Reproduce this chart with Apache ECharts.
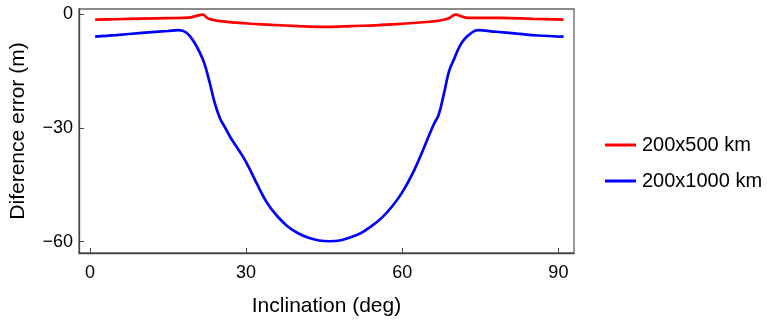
<!DOCTYPE html>
<html>
<head>
<meta charset="utf-8">
<script src="https://cdn.jsdelivr.net/npm/echarts@6/dist/echarts.min.js"></script>
<style>
  html, body { margin: 0; padding: 0; background: #fff; }
  #chart { width: 767px; height: 322px; }
</style>
</head>
<body>
<div id="chart"></div>
<script>
// inclination (deg) and difference error (m)
const redX = [1, 5, 10, 15, 19, 20.5, 21.7, 22.7, 25, 28, 31, 35, 40, 44, 46, 50, 55, 60, 64, 67, 68.7, 70.3, 71.5, 72.5, 79, 85, 91];
const redY = [-1.4, -1.3, -1.15, -1.0, -0.9, -0.4, -0.1, -1.1, -1.8, -2.2, -2.5, -2.8, -3.1, -3.3, -3.3, -3.1, -2.9, -2.5, -2.1, -1.7, -1.2, -0.1, -0.6, -0.95, -0.95, -1.2, -1.4];

const blueX = [1, 5, 10, 15, 17, 18.5, 20, 21, 22, 23, 24, 25, 26, 27, 28, 30, 32, 34, 36, 38, 40, 42, 44, 46, 48, 50, 52, 54, 56, 58, 60, 62, 64, 66, 67, 68, 69, 70, 71, 72, 73, 74.5, 78, 82, 86, 91];
const blueY = [-5.9, -5.5, -4.9, -4.4, -4.2, -4.8, -7.3, -9.8, -13, -18, -23.5, -27.5, -30, -32.5, -34.6, -39, -44.5, -49.7, -53.3, -56, -57.8, -59, -59.7, -59.9, -59.7, -58.9, -57.8, -56, -53.8, -50.8, -47, -42, -35.8, -29.2, -26.5, -21, -15, -11.7, -8.5, -6.5, -5.2, -4.2, -4.6, -5.1, -5.6, -5.9];

const seriesNames = ['200x500 km', '200x1000 km'];
const xTicks = [0, 30, 60, 90];
const yTicks = [-60, -30, 0];

const zip = (xs, ys) => xs.map((x, i) => [x, ys[i]]);
const fmt = v => (v < 0 ? '\u2212' + Math.abs(v) : String(v));

const chart = echarts.init(document.getElementById('chart'));
chart.setOption({
    animation: false,
    textStyle: { fontFamily: 'Liberation Sans, Arial, sans-serif' },
    grid: {
        left: 75, right: 193, top: 9, bottom: 63,
        show: true, borderColor: '#666', borderWidth: 1.3
    },
    xAxis: {
        type: 'value', min: -2.1, max: 93,
        name: 'Inclination (deg)', nameLocation: 'middle', nameGap: 43,
        nameTextStyle: { fontSize: 21, color: '#000' },
        axisLine: { onZero: false, lineStyle: { color: '#444', width: 1.3 } },
        axisTick: { inside: true, length: 5, customValues: xTicks, lineStyle: { color: '#444' } },
        axisLabel: { customValues: xTicks, fontSize: 18, color: '#000', margin: 11, formatter: fmt },
        splitLine: { show: false }
    },
    yAxis: {
        type: 'value', min: -63, max: 1.4,
        name: 'Diference error (m)', nameLocation: 'middle', nameGap: 50,
        nameTextStyle: { fontSize: 21, color: '#000' },
        axisLine: { onZero: false, lineStyle: { color: '#444', width: 1.3 } },
        axisTick: { inside: true, length: 5, customValues: yTicks, lineStyle: { color: '#444' } },
        axisLabel: { customValues: yTicks, fontSize: 18, color: '#000', margin: 6, formatter: fmt },
        splitLine: { show: false }
    },
    legend: {
        orient: 'vertical', left: 600, top: 129,
        icon: 'rect', itemWidth: 31, itemHeight: 3, itemGap: 14,
        textStyle: { fontSize: 20, color: '#000', padding: [0, 0, 0, 1], lineHeight: 22 },
        data: seriesNames
    },
    series: [
        {
            name: seriesNames[0], type: 'line', data: zip(redX, redY),
            symbol: 'none', smooth: 0.35,
            lineStyle: { color: '#ff0000', width: 2.7 }, itemStyle: { color: '#ff0000' }
        },
        {
            name: seriesNames[1], type: 'line', data: zip(blueX, blueY),
            symbol: 'none', smooth: 0.4,
            lineStyle: { color: '#0000ff', width: 2.7 }, itemStyle: { color: '#0000ff' }
        }
    ]
});
</script>
</body>
</html>
